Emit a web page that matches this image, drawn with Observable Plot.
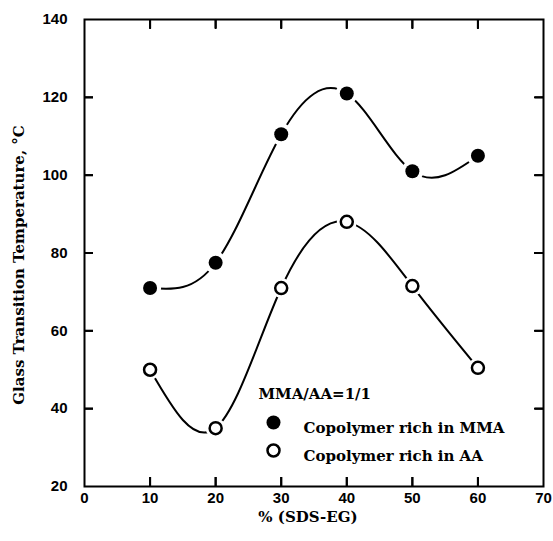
<!DOCTYPE html>
<html><head><meta charset="utf-8">
<script src="https://cdn.jsdelivr.net/npm/d3@7"></script>
<script src="https://cdn.jsdelivr.net/npm/@observablehq/plot@0.6"></script>
<style>body{margin:0;background:#fff}</style>
</head><body><div id="chart"></div>
<script>
const sdsEG = [10, 20, 30, 40, 50, 60];
const tgMMA = [71, 77.5, 110.5, 121, 101, 105];
const tgAA = [50, 35, 71, 88, 71.5, 50.5];
const xTicks = [0, 10, 20, 30, 40, 50, 60, 70];
const yTicks = [20, 40, 60, 80, 100, 120, 140];
const legendTitle = "MMA/AA=1/1";
const seriesNames = ["Copolymer rich in MMA", "Copolymer rich in AA"];
const xLabel = "% (SDS-EG)";
const yLabel = "Glass Transition Temperature, °C";

const W = 553, H = 541, mL = 84, mR = 10, mT = 19, mB = 55;
const plotW = W - mL - mR, plotH = H - mT - mB, tickLen = 9;
const xDomain = [0, 70], yDomain = [20, 140];
const xTickUnits = tickLen * (xDomain[1] - xDomain[0]) / plotW;
const yTickUnits = tickLen * (yDomain[1] - yDomain[0]) / plotH;

const mma = sdsEG.map((x, i) => ({x, y: tgMMA[i]}));
const aa = sdsEG.map((x, i) => ({x, y: tgAA[i]}));
const serif = "DejaVu Serif";
const serifStyle = {fontFamily: serif, fontWeight: "bold", fontSize: 15, fill: "black"};
const xInner = xTicks.slice(1, -1), yInner = yTicks.slice(1, -1);
const noText = () => "";

const chart = Plot.plot({
  width: W, height: H,
  marginLeft: mL, marginRight: mR, marginTop: mT, marginBottom: mB,
  x: {domain: xDomain},
  y: {domain: yDomain},
  marks: [
    Plot.frame({strokeWidth: 2}),
    Plot.ruleX(xInner, {x: d => d, y1: () => yDomain[0], y2: () => yDomain[0] + yTickUnits, strokeWidth: 2, stroke: "#000"}),
    Plot.ruleX(xInner, {x: d => d, y1: () => yDomain[1], y2: () => yDomain[1] - yTickUnits, strokeWidth: 2, stroke: "#000"}),
    Plot.ruleY(yInner, {y: d => d, x1: () => xDomain[0], x2: () => xDomain[0] + xTickUnits, strokeWidth: 2, stroke: "#000"}),
    Plot.ruleY(yInner, {y: d => d, x1: () => xDomain[1], x2: () => xDomain[1] - xTickUnits, strokeWidth: 2, stroke: "#000"}),
    Plot.axisX(xInner, {anchor: "bottom", tickSize: tickLen, dy: -tickLen, tickFormat: noText, label: null, strokeWidth: 2}),
    Plot.axisX(xInner, {anchor: "top", tickSize: tickLen, dy: tickLen, tickFormat: noText, label: null, strokeWidth: 2}),
    Plot.axisY(yInner, {anchor: "left", tickSize: tickLen, dx: tickLen, tickFormat: noText, label: null, strokeWidth: 2}),
    Plot.axisY(yInner, {anchor: "right", tickSize: tickLen, dx: -tickLen, tickFormat: noText, label: null, strokeWidth: 2}),
    Plot.axisX(xTicks, {anchor: "bottom", tickSize: 0, tickPadding: 6, label: null, fontSize: 15, fontWeight: "bold", fontFamily: "Liberation Sans, Arial, sans-serif"}),
    Plot.axisY(yTicks, {anchor: "left", tickSize: 0, tickPadding: 17, label: null, fontSize: 15, fontWeight: "bold", fontFamily: "Liberation Sans, Arial, sans-serif"}),
    Plot.line(mma, {x: "x", y: "y", curve: "natural", strokeWidth: 2, stroke: "black"}),
    Plot.line(aa, {x: "x", y: "y", curve: "natural", strokeWidth: 2, stroke: "black"}),
    Plot.dot(mma, {x: "x", y: "y", r: 11, fill: "white"}),
    Plot.dot(aa, {x: "x", y: "y", r: 10, fill: "white"}),
    Plot.dot(mma, {x: "x", y: "y", r: 7, fill: "black"}),
    Plot.dot(aa, {x: "x", y: "y", r: 6, fill: "white", stroke: "black", strokeWidth: 2.5}),
    Plot.text([yLabel], {frameAnchor: "left", textAnchor: "middle", rotate: -90, dx: -65, dy: 12, ...serifStyle, letterSpacing: 1.2}),
    Plot.text([xLabel], {frameAnchor: "bottom", textAnchor: "middle", dx: -6, dy: 35, ...serifStyle}),
    Plot.text([legendTitle], {frameAnchor: "top-left", dx: 174, dy: 369, textAnchor: "start", ...serifStyle}),
    Plot.dot([seriesNames[0]], {frameAnchor: "top-left", dx: 189, dy: 403, r: 7, fill: "black"}),
    Plot.text([seriesNames[0]], {frameAnchor: "top-left", dx: 219, dy: 403, textAnchor: "start", ...serifStyle, letterSpacing: 0.9}),
    Plot.dot([seriesNames[1]], {frameAnchor: "top-left", dx: 189, dy: 431, r: 6, fill: "white", stroke: "black", strokeWidth: 2.5}),
    Plot.text([seriesNames[1]], {frameAnchor: "top-left", dx: 219, dy: 431, textAnchor: "start", ...serifStyle, letterSpacing: 0.9})
  ]
});
document.getElementById("chart").appendChild(chart);
</script>
</body></html>
